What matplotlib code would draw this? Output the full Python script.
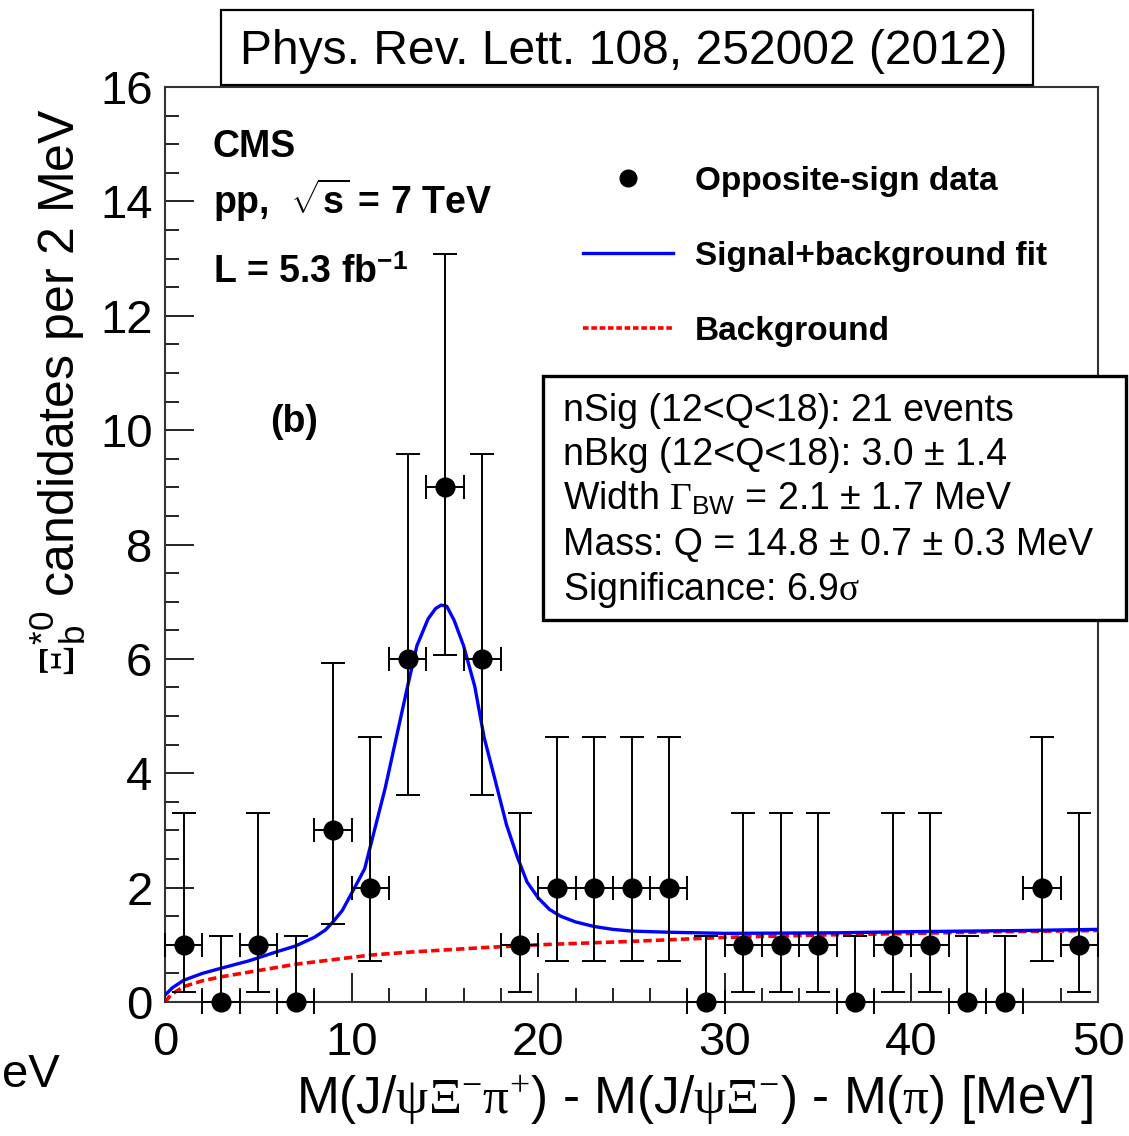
import matplotlib
matplotlib.use('Agg')
import matplotlib.pyplot as plt
from matplotlib.patches import Rectangle
from matplotlib.lines import Line2D
from matplotlib.ticker import MultipleLocator

plt.rcParams['font.family'] = ['Liberation Sans', 'DejaVu Sans']
plt.rcParams['mathtext.fontset'] = 'custom'
plt.rcParams['mathtext.rm'] = 'Liberation Serif'
plt.rcParams['mathtext.it'] = 'Liberation Serif:italic'
plt.rcParams['mathtext.bf'] = 'Liberation Sans:bold'
plt.rcParams['mathtext.sf'] = 'Liberation Sans'
plt.rcParams['lines.scale_dashes'] = False

# ---------------- data ----------------
bin_centers = [1, 3, 5, 7, 9, 11, 13, 15, 17, 19, 21, 23, 25, 27, 29,
               31, 33, 35, 37, 39, 41, 43, 45, 47, 49]
counts = [1, 0, 1, 0, 3, 2, 6, 9, 6, 1, 2, 2, 2, 2, 0,
          1, 1, 1, 0, 1, 1, 0, 0, 2, 1]
err_low = [0.83, 0.0, 0.83, 0.0, 1.63, 1.29, 2.38, 2.94, 2.38, 0.83, 1.29, 1.29, 1.29, 1.29, 0.0,
           0.83, 0.83, 0.83, 0.0, 0.83, 0.83, 0.0, 0.0, 1.29, 0.83]
err_high = [2.30, 1.15, 2.30, 1.15, 2.92, 2.64, 3.58, 4.08, 3.58, 2.30, 2.64, 2.64, 2.64, 2.64, 1.15,
            2.30, 2.30, 2.30, 1.15, 2.30, 2.30, 1.15, 1.15, 2.64, 2.30]
bin_halfwidth = 1.0

fit_q = [0, 0.4, 1, 2, 3, 4.5, 6, 7, 8, 8.6, 9, 9.5, 10, 10.7, 11.2, 11.8, 12.4, 13, 13.5,
         14.1, 14.5, 14.8, 15.1, 15.5, 16, 16.6, 17.1, 17.7, 18.3, 18.9, 19.4, 20, 20.6, 21.2,
         22, 23, 24, 25, 27, 30, 36, 40, 46, 50]
fit_total = [0.12, 0.25, 0.38, 0.50, 0.59, 0.72, 0.88, 0.98, 1.13, 1.26, 1.40, 1.60, 1.90, 2.33,
             2.97, 3.74, 4.63, 5.52, 6.23, 6.70, 6.88, 6.94, 6.92, 6.67, 6.23, 5.52, 4.63, 3.87,
             3.10, 2.52, 2.10, 1.82, 1.62, 1.50, 1.40, 1.32, 1.27, 1.24, 1.22, 1.20, 1.21,
             1.23, 1.25, 1.27]
bkg_q = [0, 0.3, 1, 2, 3, 5, 7, 9, 11, 13, 15, 17, 20, 25, 30, 35, 40, 45, 50]
bkg_values = [0.0, 0.12, 0.27, 0.37, 0.44, 0.55, 0.66, 0.74, 0.82, 0.87, 0.91, 0.95,
              1.00, 1.06, 1.13, 1.17, 1.20, 1.23, 1.25]

x_ticks = [0, 10, 20, 30, 40, 50]
y_ticks = [0, 2, 4, 6, 8, 10, 12, 14, 16]

title_text = "Phys. Rev. Lett. 108, 252002 (2012)"
info_lines = ["nSig (12<Q<18): 21 events",
              "nBkg (12<Q<18): 3.0 \u00b1 1.4",
              r"Width $\Gamma_{\mathsf{BW}}$ = 2.1 $\mathsf{\pm}$ 1.7 MeV",
              "Mass: Q = 14.8 \u00b1 0.7 \u00b1 0.3 MeV",
              r"Significance: 6.9$\mathrm{\sigma}$"]
legend_labels = ["Opposite-sign data", "Signal+background fit", "Background"]

# ---------------- figure ----------------
W, H = 1129, 1136
fig = plt.figure(figsize=(W / 100, H / 100), dpi=100)

def fx(px):
    return px / W

def fy(py):
    return 1 - py / H

ax_l, ax_r, ax_t, ax_b = 165, 1098, 87, 1002
ax = fig.add_axes([fx(ax_l), fy(ax_b), fx(ax_r) - fx(ax_l), fy(ax_t) - fy(ax_b)])

ax.plot(bkg_q, bkg_values, color='#ff0000', lw=2.6, dashes=(6, 3), zorder=2)
ax.plot(fit_q, fit_total, color='#0000ff', lw=2.4, zorder=3)
ax.errorbar(bin_centers, counts, xerr=bin_halfwidth, yerr=[err_low, err_high],
            fmt='o', color='black', ms=13.5, elinewidth=1.4, capsize=8.5, capthick=1.4,
            zorder=4, clip_on=False)

ax.set_xlim(0, 50)
ax.set_ylim(0, 16)
ax.set_xticks(x_ticks)
ax.set_yticks(y_ticks)
ax.xaxis.set_minor_locator(MultipleLocator(2))
ax.yaxis.set_minor_locator(MultipleLocator(0.5))
ax.tick_params(which='both', direction='in', top=False, right=False, width=1.4,
               color='#222222', labelsize=34)
ax.tick_params(which='major', length=21)
ax.tick_params(which='minor', length=10)
ax.tick_params(axis='y', pad=9)
ax.tick_params(axis='x', pad=14)
for s in ax.spines.values():
    s.set_linewidth(1.5)
    s.set_color('#333333')

ax.set_xlabel(r"M(J/$\mathrm{\psi\Xi}^{-}\mathrm{\pi}^{+}$) - M(J/$\mathrm{\psi\Xi}^{-}$) - M($\mathrm{\pi}$) [MeV]",
              fontsize=37, loc='right')
ax.xaxis.set_label_coords(0.995, -0.078)
ax.set_ylabel(r"$\Xi_{\mathsf{b}}^{\mathsf{*0}}$ candidates per 2 MeV", fontsize=36, loc='top')
ax.yaxis.set_label_coords(-0.082, 0.977)

# CMS labels
fig.text(fx(213), fy(157), "CMS", fontsize=27, fontweight='bold', va='baseline')
fig.text(fx(213), fy(214), r"pp,  $\sqrt{\mathbf{s}}$ = 7 TeV", fontsize=27,
         fontweight='bold', va='baseline')
fig.text(fx(213), fy(283), r"L = 5.3 fb$^{\mathbf{-1}}$", fontsize=27,
         fontweight='bold', va='baseline')
fig.text(fx(270), fy(432), "(b)", fontsize=27, fontweight='bold', va='baseline')

# legend
handles = [Line2D([], [], marker='o', ls='none', color='black', ms=12),
           Line2D([], [], color='#0000ff', lw=2.4),
           Line2D([], [], color='#ff0000', lw=2.6, dashes=(4, 2))]
leg = ax.legend(handles, legend_labels, loc='upper left',
                bbox_to_anchor=(fx(583), fy(166)), bbox_transform=fig.transFigure,
                frameon=False, prop={'weight': 'bold', 'size': 24},
                handlelength=2.7, handletextpad=0.65, labelspacing=1.32,
                borderpad=0, borderaxespad=0)

# title box
fig.patches.append(Rectangle((fx(221), fy(85)), fx(1033) - fx(221), fy(10) - fy(85),
                             transform=fig.transFigure, fill=True, facecolor='white',
                             edgecolor='black', lw=1.6, zorder=5))
fig.text(fx(624), fy(64), title_text, fontsize=34.6, ha='center', va='baseline', zorder=6)

# info box
fig.patches.append(Rectangle((fx(543), fy(620)), fx(1126) - fx(543), fy(376) - fy(620),
                             transform=fig.transFigure, fill=True, facecolor='white',
                             edgecolor='black', lw=2.4, zorder=5))
baselines = [421, 465, 510, 555, 600]
for line, b in zip(info_lines, baselines):
    fig.text(fx(563), fy(b), line, fontsize=27, ha='left', va='baseline', zorder=6)

# clipped neighbour label
fig.text(fx(2), fy(1075), "eV", fontsize=34, ha='left', va='center')

fig.savefig('out.png', dpi=100)
